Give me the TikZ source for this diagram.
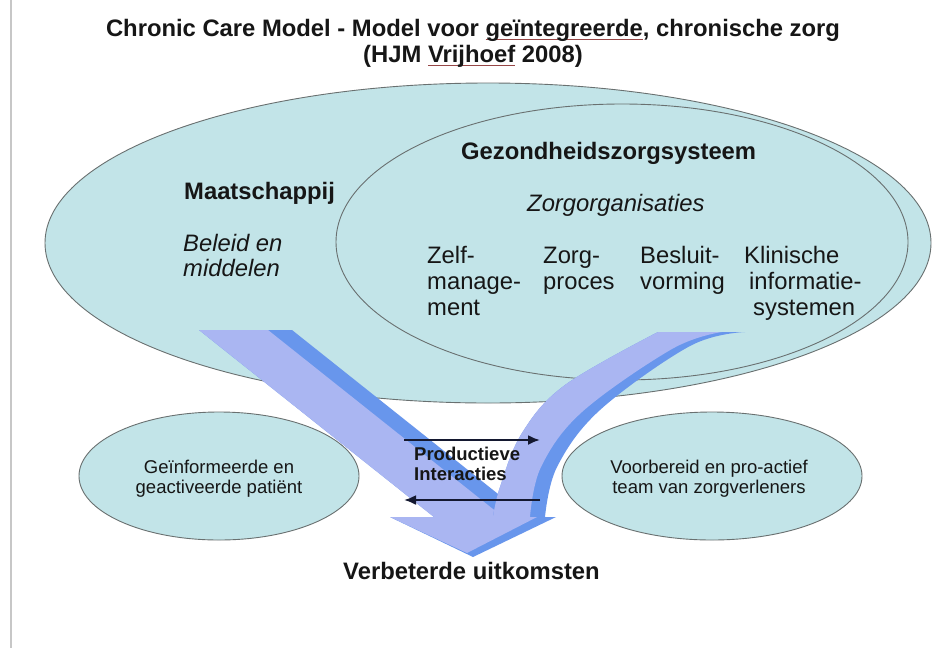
\documentclass[tikz,border=0pt]{standalone}
\usepackage{fontspec}
\setmainfont{Liberation Sans}
\usetikzlibrary{arrows.meta}
\definecolor{ellfill}{RGB}{194,228,232}
\definecolor{ellline}{RGB}{105,112,112}
\definecolor{arrlight}{RGB}{170,182,242}
\definecolor{arrdark}{RGB}{104,150,236}
\definecolor{ulred}{RGB}{150,70,70}
\definecolor{navyarr}{RGB}{20,24,48}
\definecolor{txt}{RGB}{22,22,22}
\newcommand\spellul[1]{\begingroup\setbox0\hbox{#1}\rlap{\color{ulred}\rule[-3.5pt]{\wd0}{1pt}}\box0\endgroup}
\newcommand\bigfs{\fontsize{23.8}{26}\selectfont}
\newcommand\smallfs{\fontsize{18.5}{20}\selectfont}
\begin{document}
\begin{tikzpicture}[x=1pt,y=-1pt,
  ell/.style={draw=ellline, line width=0.9pt, fill=ellfill},
  bigb/.style={inner sep=0pt, text=txt, font=\bigfs\bfseries},
  bigi/.style={inner sep=0pt, text=txt, font=\bigfs\itshape},
  bigr/.style={inner sep=0pt, text=txt, font=\bigfs},
  smr/.style={inner sep=0pt, text=txt, font=\smallfs},
  smb/.style={inner sep=0pt, text=txt, font=\smallfs\bfseries},
  interarrow/.style={draw=navyarr, line width=2.2pt, -{Latex[length=12pt,width=10pt]}}]
\useasboundingbox (0,0) rectangle (933,648);
\fill[white] (0,0) rectangle (933,648);
% left border line
\fill[black!22] (9.5,0) rectangle (11.5,648);
% ellipses
\draw[ell] (488,243) ellipse [x radius=443, y radius=160];
\draw[ell] (622,242) ellipse [x radius=286, y radius=138];
\draw[ell] (219,476) ellipse [x radius=140, y radius=64];
\draw[ell] (712,476) ellipse [x radius=150, y radius=64];
% left band
\fill[arrdark] (199,330) -- (292,330) -- (527,517) -- (434,517) -- cycle;
\fill[arrlight] (199,330) -- (268,330) -- (503,517) -- (434,517) -- cycle;
% right band
\fill[arrdark] (658,332) -- (745,332)
  -- plot[smooth, tension=0.6] coordinates {(745,332) (690,346) (600,410) (557,467) (545,517)}
  -- (493,517)
  -- plot[smooth, tension=0.6] coordinates {(493,517) (500,487) (522,433) (565,385) (658,332)}
  -- cycle;
\fill[arrlight] (658,332) -- (722,332)
  -- plot[smooth, tension=0.6] coordinates {(722,332) (672,349) (582,412) (541,467) (530,517)}
  -- (493,517)
  -- plot[smooth, tension=0.6] coordinates {(493,517) (500,487) (522,433) (565,385) (658,332)}
  -- cycle;
% arrow head
\fill[arrdark] (390,517) -- (556,517) -- (473,557) -- cycle;
\fill[arrlight] (390,517) -- (537,517) -- (467,553) -- cycle;
% title
\node[bigb, anchor=base] (title1) at (473,36) {Chronic Care Model - Model voor \spellul{geïntegreerde}, chronische zorg};
\node[bigb, anchor=base] (title2) at (473,62) {(HJM \spellul{Vrijhoef} 2008)};
% big ellipse texts
\node[bigb, anchor=base west] (gez) at (461,159) {Gezondheidszorgsysteem};
\node[bigb, anchor=base west] (maat) at (184,199) {Maatschappij};
\node[bigi, anchor=base west] (zorgorg) at (527,211) {Zorgorganisaties};
\node[bigi, anchor=base west] (bel1) at (183,251) {Beleid en};
\node[bigi, anchor=base west] (bel2) at (183,276) {middelen};
\node[bigr, anchor=base west] (zm1) at (427,263) {Zelf-};
\node[bigr, anchor=base west] (zm2) at (427,289) {manage-};
\node[bigr, anchor=base west] (zm3) at (427,315) {ment};
\node[bigr, anchor=base west] (zp1) at (543,263) {Zorg-};
\node[bigr, anchor=base west] (zp2) at (543,289) {proces};
\node[bigr, anchor=base west] (bv1) at (640,263) {Besluit-};
\node[bigr, anchor=base west] (bv2) at (640,289) {vorming};
\node[bigr, anchor=base west] (ki1) at (744,263) {Klinische};
\node[bigr, anchor=base west] (ki2) at (749,289) {informatie-};
\node[bigr, anchor=base west] (ki3) at (753,315) {systemen};
% bottom ellipse texts
\node[smr, anchor=base] (pat1) at (219,473) {Geïnformeerde en};
\node[smr, anchor=base] (pat2) at (219,493) {geactiveerde patiënt};
\node[smr, anchor=base] (team1) at (709,473) {Voorbereid en pro-actief};
\node[smr, anchor=base] (team2) at (709,493) {team van zorgverleners};
\node[smb, anchor=base west] (pi1) at (414,460) {Productieve};
\node[smb, anchor=base west] (pi2) at (414,480) {Interacties};
\node[bigb, anchor=base west] (uitk) at (343,579) {Verbeterde uitkomsten};
% interaction arrows
\coordinate (ta) at (404,440);
\coordinate (tb) at (540,440);
\coordinate (ba) at (540,500);
\coordinate (bb) at (404,500);
\draw[interarrow] (ta) -- (tb);
\draw[interarrow] (ba) -- (bb);
\end{tikzpicture}
\end{document}
